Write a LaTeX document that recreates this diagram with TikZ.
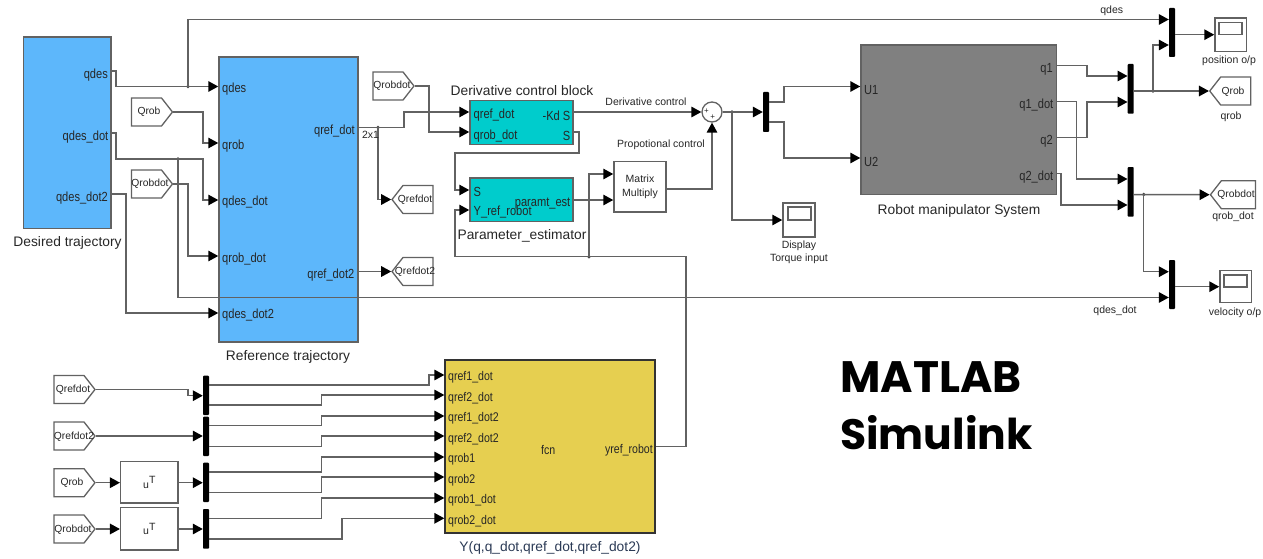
\documentclass[tikz,border=0pt]{standalone}
\usepackage{fontspec}
\usetikzlibrary{arrows.meta,shapes.symbols}
\setmainfont{Liberation Sans}
\newfontfamily\portf[FakeStretch=0.84]{Liberation Sans}
\newfontfamily\bigf{Poppins}
\definecolor{blueblk}{HTML}{5DB7FB}
\definecolor{cyanblk}{HTML}{00CCCC}
\definecolor{yellowblk}{HTML}{E6CF50}
\definecolor{grayblk}{HTML}{808080}
\definecolor{wirec}{HTML}{626262}
\definecolor{txt}{HTML}{262626}
\definecolor{navytxt}{HTML}{2B3A55}
\tikzset{
  wire/.style={draw=wirec,line width=1.5pt},
  arr/.style={wire,-{Triangle[length=10pt,width=10.5pt,color=black]}},
  jn/.style={circle,fill=wirec!70!black,inner sep=0pt,minimum size=3.8pt},
  blockbox/.style={draw=wirec,line width=1.5pt,inner sep=0pt},
  whitebox/.style={blockbox,fill=white,align=center,font=\fontsize{10.5}{14}\selectfont,text=txt},
  muxbar/.style={fill=black,rounded corners=0.8pt,inner sep=0pt},
  fromtag/.style={shape=signal,signal to=east,signal from=nowhere,signal pointer angle=104,draw=wirec,line width=1.3pt,fill=white,inner sep=0pt,minimum width=41pt,minimum height=28pt},
  gototag/.style={shape=signal,signal to=west,signal from=nowhere,signal pointer angle=104,draw=wirec,line width=1.3pt,fill=white,inner sep=0pt,minimum width=41pt,minimum height=28pt},
  tagtext/.style={font=\fontsize{10.3}{12}\selectfont,text=txt,inner sep=0pt},
  portl/.style={font=\portf\fontsize{13.2}{14}\selectfont,text=txt,inner sep=0pt,anchor=west},
  portr/.style={font=\portf\fontsize{13.2}{14}\selectfont,text=txt,inner sep=0pt,anchor=east},
  fcnport/.style={font=\portf\fontsize{12.6}{14}\selectfont,text=txt,inner sep=0pt,anchor=west},
  caption/.style={font=\fontsize{13.8}{16}\selectfont,text=txt,inner sep=0pt},
  small/.style={font=\fontsize{10.5}{12}\selectfont,text=txt,inner sep=0pt},
}
\newcommand{\rnode}[7]{% style, name, x1,y1,x2,y2, text
  \pgfmathsetmacro{\cxv}{(#3+#5)/2}\pgfmathsetmacro{\cyv}{(#4+#6)/2}
  \pgfmathsetmacro{\wdv}{#5-#3}\pgfmathsetmacro{\htv}{#6-#4}
  \node[#1,minimum width=\wdv pt,minimum height=\htv pt] (#2) at (\cxv,\cyv) {#7};}
\begin{document}
\begin{tikzpicture}[x=1pt,y=-1pt]
\useasboundingbox (0,0) rectangle (1263,559);
% main blocks
\rnode{blockbox,fill=blueblk}{des}{23.5}{37}{111}{228.5}{}
\rnode{blockbox,fill=blueblk}{ref}{219}{57}{358}{342}{}
\rnode{blockbox,fill=cyanblk}{der}{470}{100.7}{573}{144.3}{}
\rnode{blockbox,fill=cyanblk}{par}{470}{178}{573}{221.7}{}
\rnode{whitebox}{mm}{614}{161.7}{666}{212}{Matrix\\Multiply}
\rnode{blockbox,fill=grayblk}{rob}{861}{45}{1056.7}{194.7}{}
\rnode{blockbox,fill=yellowblk,line width=1.9pt,draw=black!80}{fcn}{445.3}{360}{655}{532.7}{}
\rnode{whitebox}{ut1}{120.7}{461.7}{178}{503}{u\raisebox{4.5pt}{T}}
\rnode{whitebox}{ut2}{120.7}{507.7}{178}{550}{u\raisebox{4.5pt}{T}}
% sum
\node[circle,draw=wirec,line width=1.3pt,fill=white,inner sep=0pt,minimum size=20pt] (sum) at (712,112) {};
\node[small,font=\fontsize{8}{8}\selectfont] (pa) at (706.5,111) {+};
\node[small,font=\fontsize{8}{8}\selectfont] (pb) at (712.7,117.5) {+};
% muxes
\rnode{muxbar}{mc}{763}{92}{769}{132}{}
\rnode{muxbar}{m1}{1127.7}{64}{1133.7}{113.7}{}
\rnode{muxbar}{m2}{1127.7}{167}{1133.7}{216.7}{}
\rnode{muxbar}{m3}{1169}{8}{1175}{57}{}
\rnode{muxbar}{m4}{1169}{260}{1175}{309}{}
\rnode{muxbar}{b1}{203}{375.7}{209}{415}{}
\rnode{muxbar}{b2}{203}{416.7}{209}{456}{}
\rnode{muxbar}{b3}{203}{462.7}{209}{502}{}
\rnode{muxbar}{b4}{203}{509}{209}{548.7}{}
% scopes
\rnode{blockbox,fill=white}{sc1}{1215}{18}{1246.7}{51.7}{}
\rnode{blockbox,fill=white}{sc1i}{1219}{22.3}{1242}{34.3}{}
\rnode{blockbox,fill=white}{sc2}{783}{203}{815}{237}{}
\rnode{blockbox,fill=white}{sc2i}{788}{207}{811}{220}{}
\rnode{blockbox,fill=white}{sc3}{1220}{270.7}{1251.7}{302.7}{}
\rnode{blockbox,fill=white}{sc3i}{1224}{275}{1247}{287}{}
% tags
\node[fromtag] (fqrob) at (146.5,112) {};
\node[tagtext] (fqrobt) at (149,112) {Qrob};
\node[fromtag] (frd1) at (146.5,184) {};
\node[tagtext] (frd1t) at (150,184) {Qrobdot};
\node[fromtag] (frd2) at (388,86) {};
\node[tagtext] (frd2t) at (392,86) {Qrobdot};
\node[gototag] (gref) at (418,199.5) {};
\node[tagtext] (greft) at (415,200) {Qrefdot};
\node[gototag] (gref2) at (418,271.5) {};
\node[tagtext] (gref2t) at (415,272) {Qrefdot2};
\node[gototag] (gqrob) at (1235.7,91) {};
\node[tagtext] (gqrobt) at (1233,92) {Qrob};
\node[gototag,minimum width=45pt] (gqrd) at (1238.4,194.7) {};
\node[tagtext] (gqrdt) at (1236,195) {Qrobdot};
\node[fromtag] (f1) at (69,389.5) {};
\node[tagtext] (f1t) at (73,390) {Qrefdot};
\node[fromtag] (f2) at (69,436) {};
\node[tagtext] (f2t) at (74,437) {Qrefdot2};
\node[fromtag] (f3) at (69,482.7) {};
\node[tagtext] (f3t) at (72,483) {Qrob};
\node[fromtag] (f4) at (69,529) {};
\node[tagtext] (f4t) at (73,530) {Qrobdot};
% junctions
\node[jn] (j1) at (188,86.5) {};
\node[jn] (j2) at (178,159) {};
\node[jn] (j3) at (378,127.5) {};
\node[jn] (j4) at (589,256.7) {};
\node[jn] (j5) at (732,112) {};
\node[jn] (j6) at (1153,91) {};
\node[jn] (j7) at (1143.7,194.5) {};
% wires
\draw[arr] (des.east |- 0,71) -- (116,71) -- (116,86.5) -- (ref.west |- 0,86.5);
\draw[arr] (j1.center) -- (188,19.5) -- (m3.west |- 0,19.5);
\draw[arr] (fqrob.east) -- (203,112) -- (203,143) -- (ref.west |- 0,143);
\draw[arr] (des.east |- 0,133) -- (116,133) -- (116,159) -- (203,159) -- (203,200) -- (ref.west |- 0,200);
\draw[arr] (j2.center) -- (178,297.5) -- (m4.west |- 0,297.5);
\draw[arr] (frd1.east) -- (188,184) -- (188,256) -- (ref.west |- 0,256);
\draw[arr] (des.east |- 0,194) -- (126,194) -- (126,313) -- (ref.west |- 0,313);
\draw[arr] (ref.east |- 0,127.5) -- (404,127.5) -- (404,112) -- (der.west |- 0,112);
\draw[arr] (j3.center) -- (378,199.5) -- (gref.west);
\draw[arr] (ref.east |- 0,271.5) -- (gref2.west);
\draw[arr] (frd2.east) -- (429,86) -- (429,132) -- (der.west |- 0,132);
\draw[arr] (der.east |- 0,112) -- (sum.west);
\draw[arr] (der.east |- 0,132) -- (579,132) -- (579,153) -- (455,153) -- (455,190) -- (par.west |- 0,190);
\draw[arr] (fcn.east |- 0,446.7) -- (686,446.7) -- (686,256.7) -- (455,256.7) -- (455,210) -- (par.west |- 0,210);
\draw[arr] (j4.center) -- (589,174) -- (mm.west |- 0,174);
\draw[arr] (par.east |- 0,200) -- (mm.west |- 0,200);
\draw[arr] (mm.east |- 0,189) -- (sum.south |- 0,189) -- (sum.south);
\draw[arr] (sum.east) -- (mc.west |- 0,112);
\draw[arr] (j5.center) -- (732,220) -- (sc2.west |- 0,220);
\draw[arr] (mc.east |- 0,102) -- (784,102) -- (784,86.5) -- (rob.west |- 0,86.5);
\draw[arr] (mc.east |- 0,122) -- (784,122) -- (784,158) -- (rob.west |- 0,158);
\draw[arr] (rob.east |- 0,65.7) -- (1087,65.7) -- (1087,76) -- (m1.west |- 0,76);
\draw[arr] (rob.east |- 0,101.7) -- (1076.7,101.7) -- (1076.7,179) -- (m2.west |- 0,179);
\draw[arr] (rob.east |- 0,137.7) -- (1087,137.7) -- (1087,102) -- (m1.west |- 0,102);
\draw[arr] (rob.east |- 0,173.7) -- (1061,173.7) -- (1061,205) -- (m2.west |- 0,205);
\draw[arr] (m1.east |- 0,91) -- (gqrob.west);
\draw[arr] (j6.center) -- (1153,45) -- (m3.west |- 0,45);
\draw[arr] (m3.east |- 0,34.7) -- (sc1.west |- 0,34.7);
\draw[arr] (m2.east |- 0,194.5) -- (gqrd.west);
\draw[arr] (j7.center) -- (1143.7,271.7) -- (m4.west |- 0,271.7);
\draw[arr] (m4.east |- 0,286.7) -- (sc3.west |- 0,286.7);
% bottom wires
\draw[arr] (f1.east) -- (188,389.5) -- (188,395.7) -- (b1.west |- 0,395.7);
\draw[arr] (f2.east) -- (b2.west |- 0,436);
\draw[arr] (f3.east) -- (ut1.west |- 0,482.7);
\draw[arr] (f4.east) -- (ut2.west |- 0,529);
\draw[arr] (ut1.east |- 0,482.7) -- (b3.west |- 0,482.7);
\draw[arr] (ut2.east |- 0,529) -- (b4.west |- 0,529);
\draw[arr] (b1.east |- 0,385) -- (429,385) -- (429,375) -- (fcn.west |- 0,375);
\draw[arr] (b1.east |- 0,405) -- (321.7,405) -- (321.7,395) -- (fcn.west |- 0,395);
\draw[arr] (b2.east |- 0,425.7) -- (321.7,425.7) -- (321.7,416) -- (fcn.west |- 0,416);
\draw[arr] (b2.east |- 0,446.3) -- (321.7,446.3) -- (321.7,436) -- (fcn.west |- 0,436);
\draw[arr] (b3.east |- 0,472) -- (321.7,472) -- (321.7,457) -- (fcn.west |- 0,457);
\draw[arr] (b3.east |- 0,492.7) -- (321.7,492.7) -- (321.7,477) -- (fcn.west |- 0,477);
\draw[arr] (b4.east |- 0,518.3) -- (321.7,518.3) -- (321.7,498) -- (fcn.west |- 0,498);
\draw[arr] (b4.east |- 0,539) -- (342,539) -- (342,518.3) -- (fcn.west |- 0,518.3);
% port labels
\node[portr] (l1) at (108,75) {qdes};
\node[portr] (l2) at (108.5,137) {qdes\_dot};
\node[portr] (l3) at (108,198) {qdes\_dot2};
\node[portl] (l4) at (222,89.5) {qdes};
\node[portl] (l5) at (222,146) {qrob};
\node[portl] (l6) at (222,202.5) {qdes\_dot};
\node[portl] (l7) at (222,259) {qrob\_dot};
\node[portl] (l8) at (222,315.5) {qdes\_dot2};
\node[portr] (l9) at (355,131.5) {qref\_dot};
\node[portr] (l10) at (354.5,275.5) {qref\_dot2};
\node[portl] (l11) at (473.5,115) {qref\_dot};
\node[portl] (l12) at (473.5,136) {qrob\_dot};
\node[portr] (l13) at (570.5,116) {-Kd S};
\node[portr] (l14) at (570.5,136) {S};
\node[portl] (l15) at (473.5,192) {S};
\node[portl] (l16) at (473.5,212.5) {Y\_ref\_robot};
\node[portr] (l17) at (570.5,204) {paramt\_est};
\node[portl] (l18) at (864,90) {U1};
\node[portl] (l19) at (864,162) {U2};
\node[portr] (l20) at (1053,69.5) {q1};
\node[portr] (l21) at (1053.5,105.5) {q1\_dot};
\node[portr] (l22) at (1053,141.5) {q2};
\node[portr] (l23) at (1053.5,177.5) {q2\_dot};
\foreach \nm/\yy/\tx in {a1/377.5/qref1\_dot,a2/398/qref2\_dot,a3/418.7/qref1\_dot2,a4/439/qref2\_dot2,a5/459.5/qrob1,a6/480/qrob2,a7/500.5/qrob1\_dot,a8/521/qrob2\_dot}
  {\node[fcnport] (\nm) at (448,\yy) {\tx};}
\node[fcnport] (fcnt) at (541,450) {fcn};
\node[fcnport,anchor=east] (yr) at (653,450.5) {yref\_robot};
% captions
\node[caption] (c1) at (67.5,243) {Desired trajectory};
\node[caption] (c2) at (288,357) {Reference trajectory};
\node[caption] (c3) at (522,90.5) {Derivative control block};
\node[caption] (c4) at (522,235.5) {Parameter\_estimator};
\node[caption] (c5) at (959,211) {Robot manipulator System};
\node[caption,text=navytxt] (c6) at (550,547.5) {Y(q,q\_dot,qref\_dot,qref\_dot2)};
\node[small] (s1) at (646,102) {Derivative control};
\node[small] (s2) at (661,145) {Propotional control};
\node[small] (s3) at (370.5,134.5) {2x1};
\node[small] (s4) at (799,245.5) {Display};
\node[small] (s5) at (799,259) {Torque input};
\node[small] (s6) at (1111.7,10.5) {qdes};
\node[small] (s7) at (1229,61) {position o/p};
\node[small] (s8) at (1231,116.5) {qrob};
\node[small] (s9) at (1233,217) {qrob\_dot};
\node[small] (s10) at (1115,311) {qdes\_dot};
\node[small] (s11) at (1235,313) {velocity o/p};
\node[font=\bigf\bfseries\fontsize{44}{44}\selectfont,text=black,inner sep=0pt,anchor=base west] (t1) at (840,392) {MATLAB};
\node[font=\bigf\bfseries\fontsize{42.5}{44}\selectfont,text=black,inner sep=0pt,anchor=base west] (t2) at (840,449) {Simulink};
\end{tikzpicture}
\end{document}
